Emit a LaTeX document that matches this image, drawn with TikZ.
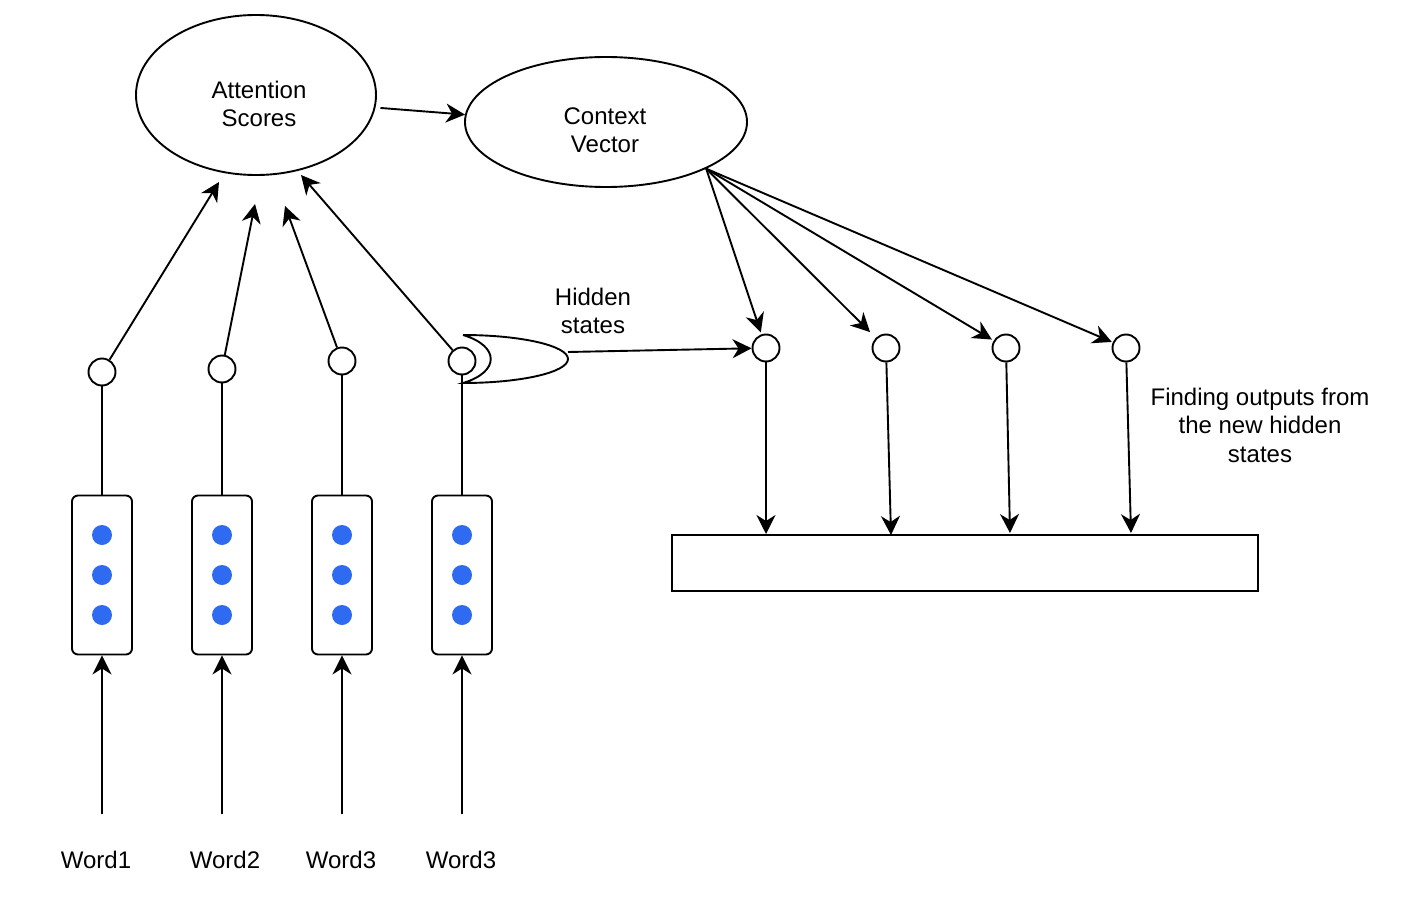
\documentclass[tikz,border=0pt]{standalone}
\usepackage{fontspec}
\setmainfont{Liberation Sans}
\usetikzlibrary{arrows.meta,shapes.geometric}
\definecolor{dotblue}{RGB}{47,107,240}
\begin{document}
\begin{tikzpicture}[x=1pt,y=-1pt,line width=1.9pt,
  arr/.style={-{Stealth[length=19pt,width=19pt,inset=6pt]}},
  hc/.style={circle,draw,minimum size=27pt,inner sep=0pt},
  cell/.style={draw,rounded corners=6pt,minimum width=60pt,minimum height=159pt,inner sep=0pt},
  bdot/.style={circle,fill=dotblue,minimum size=20pt,inner sep=0pt,draw=none},
  lbl/.style={font=\fontsize{24}{28.5}\selectfont,align=center,inner sep=0pt},
  ell/.style={ellipse,draw,inner sep=0pt}]
\useasboundingbox (0,0) rectangle (1405,907);
% ellipses
\node[ell,minimum width=240pt,minimum height=160pt] (as) at (256,95) {};
\node[lbl] (ast) at (259,104) {Attention\\Scores};
\node[ell,minimum width=282pt,minimum height=130pt] (cv) at (606,122) {};
\node[lbl] (cvt) at (605,130) {Context\\Vector};
\draw[arr,shorten <=5pt] (as.-6) -- (cv.177);
% encoder columns
\foreach \i/\x/\y/\wx in {1/102/372/96,2/222/369/225,3/342/361/341,4/462/361/461} {
  \node[hc] (c\i) at (\x,\y) {};
  \node[cell] (b\i) at (\x,575) {};
  \node[bdot] (d\i a) at (\x,535) {};
  \node[bdot] (d\i b) at (\x,575) {};
  \node[bdot] (d\i c) at (\x,615) {};
  \coordinate (s\i) at (\x,814);
  \draw (c\i) -- (b\i);
  \draw[arr] (s\i) -- (b\i);
}
\node[lbl] (w1) at (96,860) {Word1};
\node[lbl] (w2) at (225,860) {Word2};
\node[lbl] (w3) at (341,860) {Word3};
\node[lbl] (w4) at (461,860) {Word3};
% arrows to attention scores
\coordinate (t1) at (219,182);
\coordinate (t2) at (255,204);
\coordinate (t3) at (285,206);
\coordinate (t4) at (301,175);
\draw[arr] (c1) -- (t1);
\draw[arr] (c2) -- (t2);
\draw[arr] (c3) -- (t3);
\draw[arr] (c4) -- (t4);
% hidden states shape
\draw (463,335) arc[start angle=90,end angle=-90,x radius=105pt,y radius=24pt]
  .. controls (500,372) and (500,346) .. (463,335);
\node[lbl] (hst) at (593,311) {Hidden\\states};
\coordinate (hs) at (568,352);
% right circles
\node[hc] (r1) at (766,348) {};
\node[hc] (r2) at (886,348) {};
\node[hc] (r3) at (1006,348) {};
\node[hc] (r4) at (1126,348) {};
\draw[arr] (hs) -- (r1);
\draw[arr,shorten >=2pt] (cv.-25) -- (r1);
\draw[arr,shorten >=8pt] (cv.-25) -- (r2);
\draw[arr,shorten >=2pt] (cv.-25) -- (r3);
\draw[arr,shorten >=1pt] (cv.-25) -- (r4);
% output rectangle
\node[draw,minimum width=586pt,minimum height=56pt,inner sep=0pt] (out) at (965,563) {};
\coordinate (e1) at (766,534);
\coordinate (e2) at (891,535);
\coordinate (e3) at (1010,533);
\coordinate (e4) at (1131,533);
\draw[arr] (r1) -- (e1);
\draw[arr] (r2) -- (e2);
\draw[arr] (r3) -- (e3);
\draw[arr] (r4) -- (e4);
\node[lbl] (ft) at (1260,425) {Finding outputs from\\the new hidden\\states};
\end{tikzpicture}
\end{document}
